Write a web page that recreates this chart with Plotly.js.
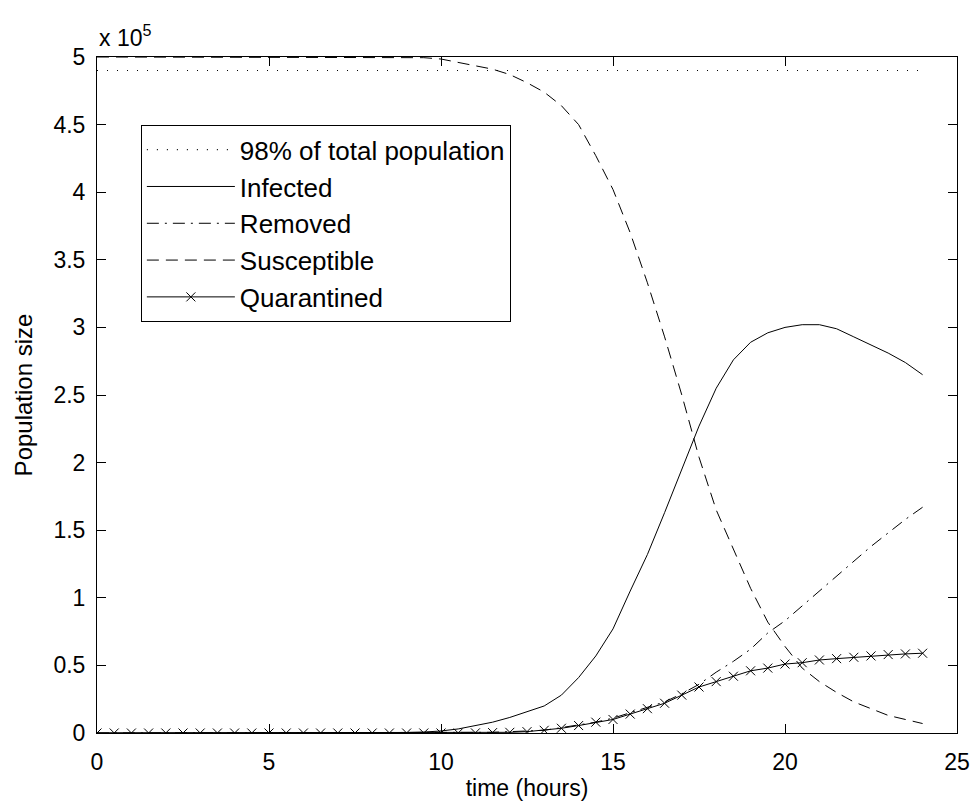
<!DOCTYPE html>
<html>
<head>
<meta charset="utf-8">
<script src="https://cdn.plot.ly/plotly-3.0.1.min.js"></script>
<style>
html, body { margin: 0; padding: 0; background: #fff; }
#chart { width: 971px; height: 805px; }
</style>
</head>
<body>
<div id="chart"></div>
<script>
// time (hours)
var time = [0,0.5,1,1.5,2,2.5,3,3.5,4,4.5,5,5.5,6,6.5,7,7.5,8,8.5,9,9.5,10,10.5,11,11.5,12,12.5,13,13.5,14,14.5,15,15.5,16,16.5,17,17.5,18,18.5,19,19.5,20,20.5,21,21.5,22,22.5,23,23.5,24];
// values in units of 10^5
var threshold = [4.9,4.9,4.9,4.9,4.9,4.9,4.9,4.9,4.9,4.9,4.9,4.9,4.9,4.9,4.9,4.9,4.9,4.9,4.9,4.9,4.9,4.9,4.9,4.9,4.9,4.9,4.9,4.9,4.9,4.9,4.9,4.9,4.9,4.9,4.9,4.9,4.9,4.9,4.9,4.9,4.9,4.9,4.9,4.9,4.9,4.9,4.9,4.9,4.9];
var infected = [0,0,0,0,0,0,0,0,0,0,0,0,0,0,0,0,0.001,0.002,0.004,0.007,0.015,0.03,0.055,0.08,0.115,0.155,0.2,0.28,0.41,0.57,0.77,1.05,1.32,1.63,1.95,2.27,2.55,2.76,2.89,2.96,3.0,3.02,3.02,2.99,2.93,2.87,2.81,2.74,2.65];
var removed = [0,0,0,0,0,0,0,0,0,0,0,0,0,0,0,0,0,0,0,0,0,0.001,0.002,0.005,0.01,0.015,0.02,0.04,0.06,0.08,0.11,0.15,0.19,0.23,0.29,0.36,0.45,0.53,0.62,0.74,0.83,0.94,1.05,1.16,1.27,1.38,1.48,1.58,1.67];
var susceptible = [5,5,5,5,5,5,5,5,5,5,5,5,5,5,5,5,5,5,4.998,4.995,4.985,4.96,4.94,4.91,4.87,4.81,4.74,4.64,4.5,4.27,4.02,3.7,3.33,2.93,2.5,2.04,1.65,1.36,1.07,0.82,0.64,0.48,0.38,0.3,0.23,0.18,0.13,0.1,0.07];
var quarantined = [0,0,0,0,0,0,0,0,0,0,0,0,0,0,0,0,0,0,0,0,0,0,0.001,0.003,0.005,0.01,0.02,0.035,0.055,0.08,0.1,0.14,0.18,0.22,0.28,0.34,0.38,0.42,0.46,0.48,0.51,0.52,0.54,0.55,0.56,0.57,0.58,0.585,0.59];
var yTicks = [0,0.5,1,1.5,2,2.5,3,3.5,4,4.5,5];
var yTickText = ['0','0.5','1','1.5','2','2.5','3','3.5','4','4.5','5'];
var xTicks = [0,5,10,15,20,25];
var xTickText = ['0','5','10','15','20','25'];

var FONT = 'Liberation Sans, Arial, sans-serif';
var base = {type: 'scatter', x: time, line: {color: '#000', width: 1}};
var traces = [
  Object.assign({}, base, {y: threshold, name: '98% of total population', mode: 'lines', line: {color: '#000', width: 1.2, dash: '1px,9px'}}),
  Object.assign({}, base, {y: infected, name: 'Infected', mode: 'lines', line: {color: '#000', width: 1}}),
  Object.assign({}, base, {y: removed, name: 'Removed', mode: 'lines', line: {color: '#000', width: 1, dash: '12px,6px,2px,6px'}}),
  Object.assign({}, base, {y: susceptible, name: 'Susceptible', mode: 'lines', line: {color: '#000', width: 1, dash: '12px,7px'}}),
  Object.assign({}, base, {y: quarantined, name: 'Quarantined', mode: 'lines+markers', line: {color: '#000', width: 1}, marker: {symbol: 'x-thin', size: 9, line: {color: '#000', width: 1}, color: '#000'}})
];

var axisCommon = {
  showline: true, linecolor: '#000', linewidth: 1, mirror: 'ticks',
  ticks: 'inside', ticklen: 9, tickwidth: 1, tickcolor: '#000',
  showgrid: false, zeroline: false,
  tickfont: {family: FONT, size: 23, color: '#000'}
};

var layout = {
  width: 971, height: 805,
  margin: {l: 97, r: 14, t: 57, b: 72, pad: 0},
  paper_bgcolor: '#fff', plot_bgcolor: '#fff',
  showlegend: true,
  font: {family: FONT, size: 23, color: '#000'},
  xaxis: Object.assign({}, axisCommon, {
    range: [0, 25], tickmode: 'array', tickvals: xTicks, ticktext: xTickText,
    ticklabelstandoff: 8,
    title: {text: 'time (hours)', font: {family: FONT, size: 23, color: '#000'}, standoff: 6}
  }),
  yaxis: Object.assign({}, axisCommon, {
    range: [0, 5], tickmode: 'array', tickvals: yTicks, ticktext: yTickText,
    ticklabelstandoff: 6,
    title: {text: 'Population size', font: {family: FONT, size: 24, color: '#000'}, standoff: 14}
  }),
  legend: {
    x: 0.051, y: 0.899, xanchor: 'left', yanchor: 'top',
    bgcolor: '#fff', bordercolor: '#000', borderwidth: 1,
    font: {family: FONT, size: 26, color: '#000'},
    itemwidth: 88, tracegroupgap: 0
  },
  annotations: [{
    xref: 'paper', yref: 'paper', x: 0, y: 1, xanchor: 'left', yanchor: 'bottom',
    text: 'x 10<sup>5</sup>', showarrow: false, yshift: 4,
    font: {family: FONT, size: 23, color: '#000'}
  }]
};

Plotly.newPlot('chart', traces, layout, {staticPlot: true, displayModeBar: false});
</script>
</body>
</html>
